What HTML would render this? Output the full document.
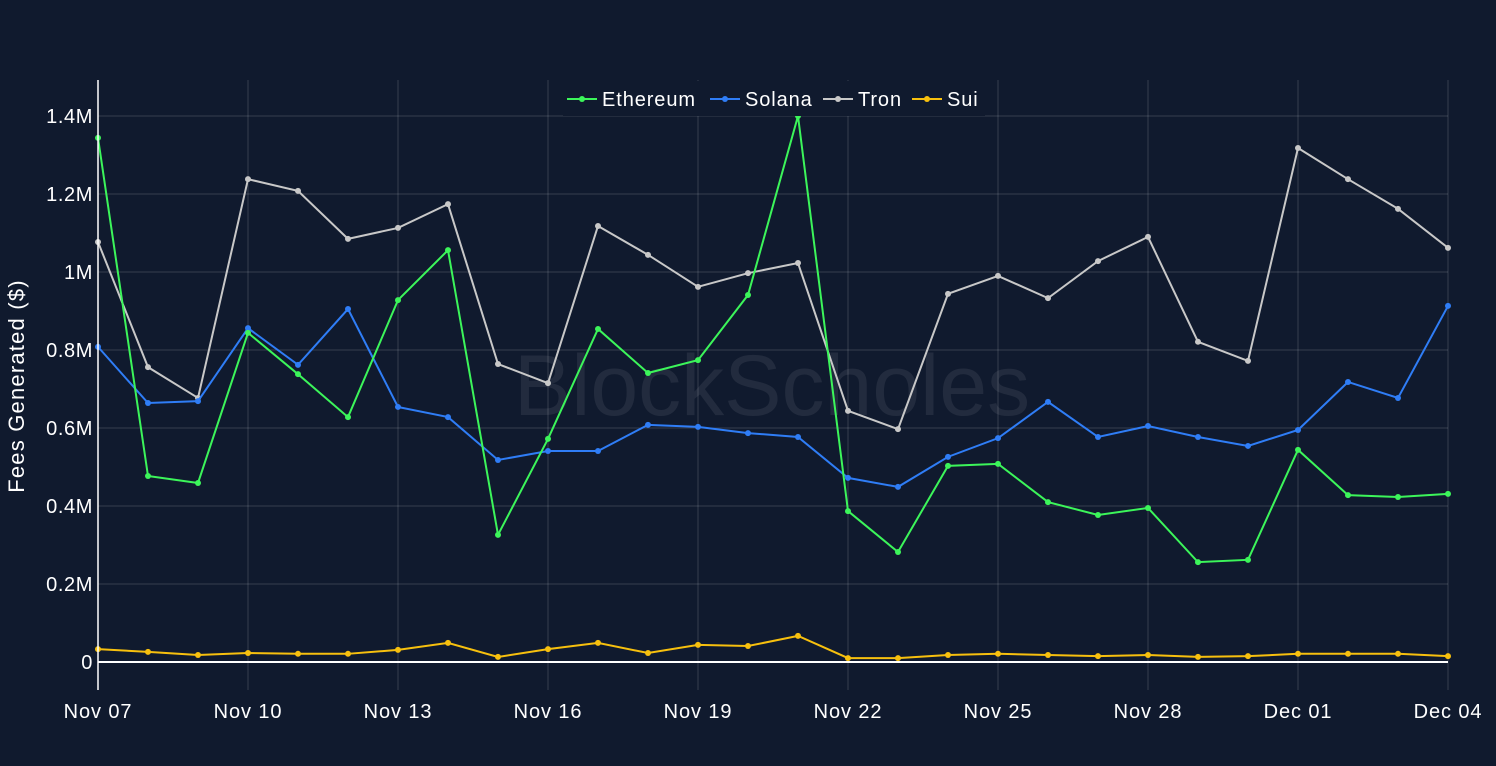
<!DOCTYPE html>
<html><head><meta charset="utf-8"><style>
body{margin:0;background:#101a2e;}
svg{display:block;font-family:"Liberation Sans",sans-serif;}
</style></head><body>
<svg id="chart" width="1496" height="766">
<rect width="1496" height="766" fill="#101a2e"/>
<g id="grid"></g>
<text x="772" y="415" text-anchor="middle" font-size="86" fill="#ffffff" fill-opacity="0.08">BlockScholes</text>
<g id="series"></g>
<g id="axes"></g>
<g id="legend"></g>
<text transform="translate(24,386) rotate(-90)" text-anchor="middle" font-size="22" letter-spacing="1.2" fill="#ffffff">Fees Generated ($)</text>
</svg>
<script>
const dates=["Nov 07","Nov 08","Nov 09","Nov 10","Nov 11","Nov 12","Nov 13","Nov 14","Nov 15","Nov 16","Nov 17","Nov 18","Nov 19","Nov 20","Nov 21","Nov 22","Nov 23","Nov 24","Nov 25","Nov 26","Nov 27","Nov 28","Nov 29","Nov 30","Dec 01","Dec 02","Dec 03","Dec 04"];
const ethereum=[1.344,0.477,0.459,0.844,0.738,0.628,0.928,1.056,0.326,0.572,0.854,0.741,0.774,0.941,1.40,0.387,0.282,0.503,0.508,0.410,0.377,0.395,0.256,0.262,0.544,0.428,0.423,0.431];
const solana=[0.808,0.664,0.669,0.856,0.762,0.905,0.654,0.628,0.518,0.541,0.541,0.608,0.603,0.587,0.577,0.472,0.449,0.526,0.574,0.667,0.577,0.605,0.577,0.554,0.595,0.718,0.677,0.913];
const tron=[1.077,0.756,0.677,1.238,1.208,1.085,1.113,1.174,0.764,0.715,1.118,1.044,0.962,0.997,1.023,0.644,0.597,0.944,0.990,0.933,1.028,1.090,0.821,0.772,1.318,1.238,1.162,1.062];
const sui=[0.033,0.026,0.018,0.023,0.021,0.021,0.031,0.049,0.013,0.033,0.049,0.023,0.044,0.041,0.067,0.010,0.010,0.018,0.021,0.018,0.015,0.018,0.013,0.015,0.021,0.021,0.021,0.015];
const yTicks=[0,0.2,0.4,0.6,0.8,1,1.2,1.4];
const yTickLabels=["0","0.2M","0.4M","0.6M","0.8M","1M","1.2M","1.4M"];
const xTickIdx=[0,3,6,9,12,15,18,21,24,27];

const X0=98,X1=1448,Y0=662,Y1=116,YMAX=1.4;
const x=i=>X0+(X1-X0)*i/(dates.length-1);
const y=v=>Y0-(Y0-Y1)*v/YMAX;
const NS="http://www.w3.org/2000/svg";
function mk(tag,parent,attrs){const e=document.createElementNS(NS,tag);for(const k in attrs)e.setAttribute(k,attrs[k]);parent.appendChild(e);return e;}
const grid=document.getElementById('grid'),axes=document.getElementById('axes'),ser=document.getElementById('series'),leg=document.getElementById('legend');
yTicks.forEach((t,i)=>{
 if(t>0){const l=mk('line',grid,{x1:X0,x2:X1,y1:y(t),y2:y(t),stroke:'#ffffff','stroke-opacity':0.16,'stroke-width':1});
 }
 const tx=mk('text',axes,{x:X0-5,y:y(t)+7,'text-anchor':'end','font-size':20,'letter-spacing':0.6,fill:'#ffffff'});tx.textContent=yTickLabels[i];
 
});
xTickIdx.forEach(i=>{
 const l=mk('line',grid,{x1:x(i),x2:x(i),y1:80,y2:690,stroke:'#ffffff','stroke-opacity':0.16,'stroke-width':1});
 
 const tx=mk('text',axes,{x:x(i),y:718,'text-anchor':'middle','font-size':20,'letter-spacing':0.9,fill:'#ffffff'});tx.textContent=dates[i];
 
});
const zl=mk('line',axes,{x1:X0,x2:X1,y1:Y0,y2:Y0,stroke:'#ffffff','stroke-width':2});

const ya=mk('line',axes,{x1:X0,x2:X0,y1:80,y2:690,stroke:'#ffffff','stroke-width':1.5});

const series=[["Ethereum",ethereum,"#3cf55a"],["Solana",solana,"#2f7df6"],["Tron",tron,"#c8c8c8"],["Sui",sui,"#f7c00e"]];
series.slice().reverse().forEach(([name,vals,col])=>{
 const g=mk('g',ser,{});
 
 const p=mk('polyline',g,{points:vals.map((v,i)=>x(i)+','+y(v)).join(' '),fill:'none',stroke:col,'stroke-width':2});
 
 vals.forEach((v,i)=>{const c=mk('circle',g,{cx:x(i),cy:y(v),r:3,fill:col});
 });
});
mk('rect',leg,{x:563,y:81,width:422,height:35,fill:'#101a2e'});
const legX=[567,710,823,912];
series.forEach(([name,vals,col],k)=>{
 const lx=legX[k];
 const g=mk('g',leg,{});
 
 mk('line',g,{x1:lx,x2:lx+30,y1:99,y2:99,stroke:col,'stroke-width':2});
 mk('circle',g,{cx:lx+15,cy:99,r:3,fill:col});
 const t=mk('text',g,{x:lx+35,y:106,'font-size':20,'letter-spacing':0.9,fill:'#ffffff'});t.textContent=name;
});
</script>
</body></html>
